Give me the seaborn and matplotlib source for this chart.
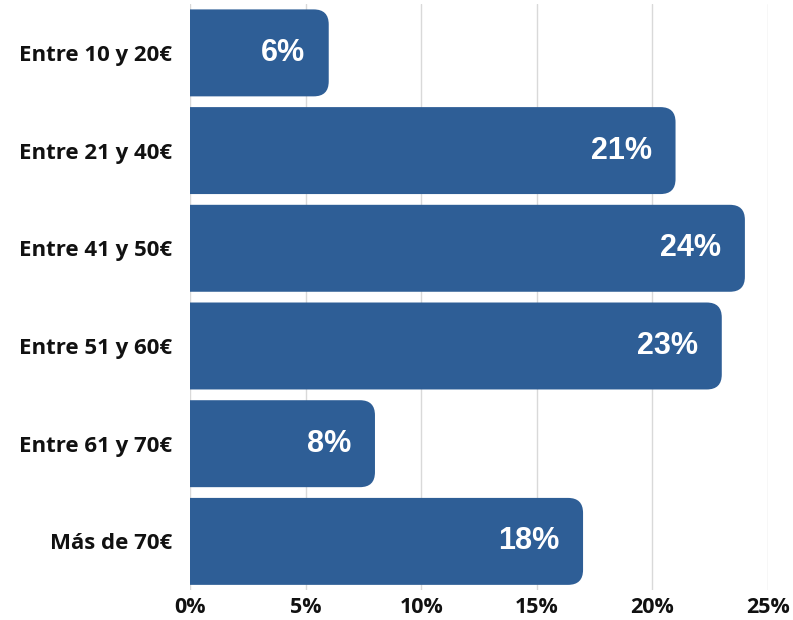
import numpy as np
import pandas as pd
import matplotlib
matplotlib.use("Agg")
import matplotlib.pyplot as plt
import seaborn as sns
from matplotlib.path import Path
from matplotlib.patches import PathPatch

# ---------------- data ----------------
categories = ["Entre 10 y 20€", "Entre 21 y 40€", "Entre 41 y 50€",
              "Entre 51 y 60€", "Entre 61 y 70€", "Más de 70€"]
values = [6, 21, 24, 23, 8, 17]
value_labels = ["6%", "21%", "24%", "23%", "8%", "18%"]
x_ticks = [0, 5, 10, 15, 20, 25]
x_tick_labels = ["0%", "5%", "10%", "15%", "20%", "25%"]

BAR_COLOR = "#2e5e96"
GRID_COLOR = "#d9d9d9"

df = pd.DataFrame({"rango": categories, "pct": values})

sns.set_style("white")
plt.rcParams["font.family"] = ["Open Sans", "DejaVu Sans"]

fig = plt.figure(figsize=(7.93, 6.2), dpi=100)
ax = fig.add_axes([0.2396, 0.048, 0.9685 - 0.2396, 0.9935 - 0.048])

sns.barplot(data=df, x="pct", y="rango", orient="h", color=BAR_COLOR,
            saturation=1, width=0.89, ax=ax, zorder=2)

ax.set_xlim(0, 25)
ax.set_ylim(len(categories) - 0.5, -0.5)
ax.set_xticks(x_ticks)
ax.set_xticklabels(x_tick_labels, fontsize=15.5, fontweight="bold", color="#111111")
ax.tick_params(axis="x", length=0, pad=5)
ax.tick_params(axis="y", length=0, pad=13, labelsize=16)
for lbl in ax.get_yticklabels():
    lbl.set_fontweight("bold")
    lbl.set_color("#111111")
ax.set_xlabel("")
ax.set_ylabel("")
for s in ax.spines.values():
    s.set_visible(False)
ax.xaxis.grid(True, color=GRID_COLOR, linewidth=1, zorder=0)
ax.set_axisbelow(True)

# replace bars with right-rounded versions
fig.canvas.draw()
px_per_x = ax.transData.transform((1, 0))[0] - ax.transData.transform((0, 0))[0]
px_per_y = abs(ax.transData.transform((0, 1))[1] - ax.transData.transform((0, 0))[1])
radius_px = 15
rx = radius_px / px_per_x
ry = radius_px / px_per_y

for p in list(ax.patches):
    x0, y0 = p.get_x(), p.get_y()
    w, h = p.get_width(), p.get_height()
    x1, y1 = x0 + w, y0 + h
    verts = [(x0, y0), (x1 - rx, y0), (x1, y0), (x1, y0 + ry),
             (x1, y1 - ry), (x1, y1), (x1 - rx, y1), (x0, y1), (x0, y0)]
    codes = [Path.MOVETO, Path.LINETO, Path.CURVE3, Path.CURVE3,
             Path.LINETO, Path.CURVE3, Path.CURVE3, Path.LINETO, Path.CLOSEPOLY]
    ax.add_patch(PathPatch(Path(verts, codes), facecolor=BAR_COLOR,
                           edgecolor="none", zorder=2))
    p.remove()

for i, (v, lab) in enumerate(zip(values, value_labels)):
    ax.annotate(lab, xy=(v, i), xytext=(-17, 0), textcoords="offset points",
                ha="right", va="center", color="white", fontsize=22,
                fontweight="bold", family=["Liberation Sans", "DejaVu Sans"],
                zorder=3)

plt.savefig("out.png", dpi=100)
